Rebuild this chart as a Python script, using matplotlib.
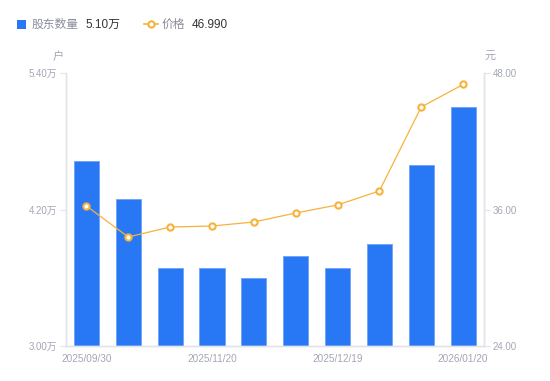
import matplotlib
matplotlib.use("Agg")
import matplotlib.pyplot as plt
from matplotlib.patches import Rectangle
from matplotlib.lines import Line2D

plt.rcParams['font.family'] = ['Liberation Sans', 'Noto Sans CJK SC', 'DejaVu Sans']

dates = ["2025/09/30", "", "", "2025/11/20", "", "", "2025/12/19", "", "", "2026/01/20"]
holders = [4.63, 4.29, 3.69, 3.69, 3.60, 3.79, 3.69, 3.90, 4.59, 5.10]   # 万户
price = [36.31, 33.58, 34.46, 34.55, 34.90, 35.69, 36.40, 37.63, 45.01, 46.99]
left_ticks = [3.00, 4.20, 5.40]
right_ticks = [24.00, 36.00, 48.00]

blue = "#2878f5"
orange = "#f7b23b"
gray = "#a3a6b4"
axis_gray = "#e3e4ea"

W, H = 550, 381
fig = plt.figure(figsize=(W / 100, H / 100), dpi=100)
ax = fig.add_axes([65.5 / W, 1 - 346 / H, 418.5 / W, 273 / H])
ax2 = ax.twinx()

x = list(range(len(holders)))
ax.bar(x, holders, width=0.6, color=blue, edgecolor="#6fa3f7", linewidth=0.6, zorder=2)
ax.set_xlim(-0.5, len(holders) - 0.5)
ax.set_ylim(left_ticks[0], left_ticks[-1])
ax.set_yticks(left_ticks)
ax.set_yticklabels([f"{v:.2f}万" for v in left_ticks])
ax.set_xticks(x)
ax.set_xticklabels(dates)

ax2.plot(x, price, color=orange, linewidth=0.9, marker="o", markersize=4.5,
         markerfacecolor="white", markeredgecolor=orange, markeredgewidth=1.5, zorder=3)
ax2.set_ylim(right_ticks[0], right_ticks[-1])
ax2.set_yticks(right_ticks)
ax2.set_yticklabels([f"{v:.2f}" for v in right_ticks])

for a in (ax, ax2):
    a.spines["top"].set_visible(False)
    for s in ("left", "right", "bottom"):
        a.spines[s].set_color(axis_gray)
        a.spines[s].set_linewidth(1.0)
    a.tick_params(axis="y", colors=axis_gray, labelcolor=gray, labelsize=7, length=4, width=0.8, pad=2)
    a.tick_params(axis="x", length=0, labelcolor=gray, labelsize=7.2, pad=6)
ax2.set_zorder(ax.get_zorder() + 1)
ax2.patch.set_visible(False)

fig.text(58 / W, 1 - 57 / H, "户", color=gray, fontsize=8, ha="center", va="center")
fig.text(490 / W, 1 - 56 / H, "元", color=gray, fontsize=8, ha="center", va="center")

# legend
fig.patches.append(Rectangle((17 / W, 1 - 29 / H), 9 / W, 9 / H, transform=fig.transFigure,
                             facecolor=blue, edgecolor="none"))
fig.text(32 / W, 1 - 24.5 / H, "股东数量", color="#8a8d99", fontsize=8.5, va="center")
fig.text(85 / W, 1 - 24.5 / H, "5.10万", color="#333333", fontsize=8.5, va="center")
fig.lines.append(Line2D([144 / W, 158 / W], [1 - 24 / H, 1 - 24 / H], transform=fig.transFigure,
                        color=orange, linewidth=1.2))
fig.lines.append(Line2D([151 / W], [1 - 24 / H], transform=fig.transFigure, marker="o",
                        markersize=4.5, markerfacecolor="white", markeredgecolor=orange,
                        markeredgewidth=1.5))
fig.text(162 / W, 1 - 24.5 / H, "价格", color="#8a8d99", fontsize=8.5, va="center")
fig.text(192 / W, 1 - 24.5 / H, "46.990", color="#333333", fontsize=8.5, va="center")

fig.savefig("out.png", dpi=100, facecolor="white")
